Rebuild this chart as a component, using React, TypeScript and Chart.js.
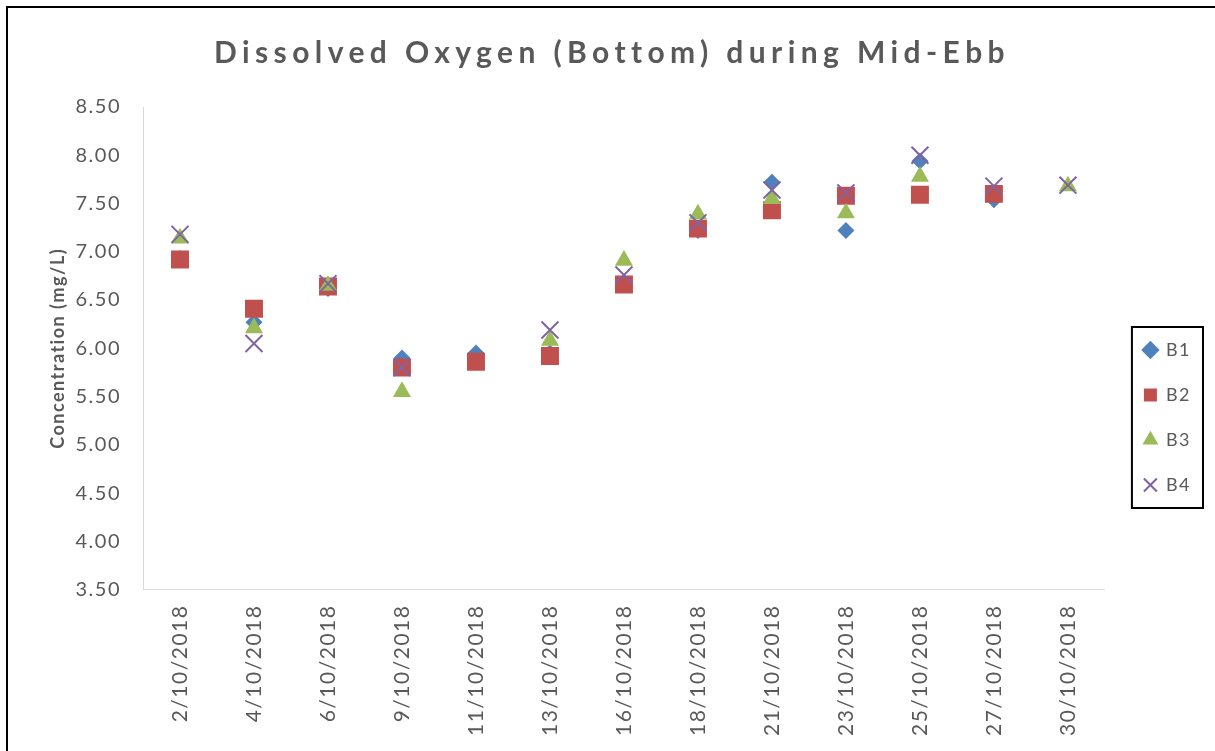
import React, { useEffect, useRef } from "react";
import { Chart, registerables } from "chart.js";

Chart.register(...registerables);

const TITLE = "Dissolved Oxygen (Bottom) during Mid-Ebb";
const Y_TITLE = "Concentration (mg/L)";

const dates = [
  "2/10/2018", "4/10/2018", "6/10/2018", "9/10/2018", "11/10/2018", "13/10/2018",
  "16/10/2018", "18/10/2018", "21/10/2018", "23/10/2018", "25/10/2018", "27/10/2018", "30/10/2018",
];

const b1 = [6.93, 6.27, 6.62, 5.90, 5.95, 5.95, 6.66, 7.22, 7.72, 7.22, 7.94, 7.54, null];
const b2 = [6.92, 6.41, 6.64, 5.80, 5.86, 5.92, 6.66, 7.24, 7.43, 7.58, 7.59, 7.60, null];
const b3 = [7.14, 6.21, 6.65, 5.55, null, 6.08, 6.91, 7.39, 7.55, 7.40, 7.78, null, 7.68];
const b4 = [7.18, 6.05, 6.67, 5.80, null, 6.19, 6.76, 7.30, 7.64, 7.61, 8.00, 7.68, 7.69];

const yMin = 3.5;
const yMax = 8.5;
const yStep = 0.5;

const seriesNames = ["B1", "B2", "B3", "B4"];
const seriesColors = ["#4f81bd", "#c0504d", "#9bbb59", "#8064a2"];

const TEXT = "#595959";
const FONT = "Lato";

const spacingPlugin = {
  id: "spacing",
  beforeUpdate(chart: any) {
    chart.ctx.letterSpacing = "1.5px";
  },
  beforeDraw(chart: any) {
    chart.ctx.letterSpacing = "1.5px";
  },
};

const legendPlacePlugin = {
  id: "legendPlace",
  afterLayout(chart: any) {
    const lg = chart.legend;
    if (!lg) return;
    const w = lg.width;
    const h = lg.height;
    lg.left = chart.chartArea.right + 12;
    lg.right = lg.left + w;
    lg.top = 314;
    lg.bottom = lg.top + h;
  },
};

const decorPlugin = {
  id: "decor",
  afterDraw(chart: any) {
    const ctx = chart.ctx;
    ctx.save();
    ctx.letterSpacing = "5.4px";
    ctx.font = `bold 30px ${FONT}`;
    ctx.fillStyle = TEXT;
    ctx.textAlign = "center";
    ctx.textBaseline = "middle";
    ctx.fillText(TITLE, 612, 53);
    ctx.restore();

    const boxes = chart.legend && chart.legend.legendHitBoxes;
    if (boxes && boxes.length) {
      let l = Infinity, t = Infinity, r = -Infinity, b = -Infinity;
      boxes.forEach((h: any) => {
        l = Math.min(l, h.left);
        t = Math.min(t, h.top);
        r = Math.max(r, h.left + h.width);
        b = Math.max(b, h.top + h.height);
      });
      ctx.save();
      ctx.strokeStyle = "#000";
      ctx.lineWidth = 2;
      ctx.strokeRect(l - 12, t - 14, r - l + 24, b - t + 28);
      ctx.restore();
    }
  },
};

export default function App() {
  const ref = useRef<HTMLCanvasElement | null>(null);

  useEffect(() => {
    document.body.style.margin = "0";
    document.body.style.overflow = "hidden";
    document.documentElement.style.overflow = "hidden";
    const canvas = ref.current;
    if (!canvas) return;
    const values = [b1, b2, b3, b4];
    const styles = ["rectRot", "rect", "triangle", "crossRot"];
    const radii = [8.5, 12.7, 10.4, 12];
    const chart = new Chart(canvas, {
      type: "line",
      data: {
        labels: dates,
        datasets: values.map((v, i) => ({
          label: seriesNames[i],
          data: v,
          order: values.length - 1 - i,
          showLine: false,
          pointStyle: styles[i] as any,
          pointRadius: radii[i],
          pointHoverRadius: radii[i],
          backgroundColor: seriesColors[i],
          borderColor: seriesColors[i],
          pointBackgroundColor: seriesColors[i],
          pointBorderColor: seriesColors[i],
          pointBorderWidth: i === 3 ? 2 : 0,
        })),
      },
      options: {
        responsive: false,
        animation: false,
        layout: { padding: { top: 107, left: 47, right: 26, bottom: 19 } },
        plugins: {
          title: { display: false },
          tooltip: { enabled: false },
          legend: {
            position: "right",
            align: "start",
            labels: {
              usePointStyle: true,
              boxWidth: 13,
              boxHeight: 13,
              padding: 27,
              color: TEXT,
              font: { family: FONT, size: 18 },
              sort: (a: any, b: any) => a.datasetIndex - b.datasetIndex,
            },
          },
        },
        scales: {
          x: {
            type: "category",
            offset: true,
            grid: { display: false, drawTicks: false },
            border: { display: true, color: "#d9d9d9", width: 1 },
            ticks: {
              autoSkip: false,
              minRotation: 90,
              maxRotation: 90,
              padding: 15,
              color: TEXT,
              font: { family: FONT, size: 21 },
            },
          },
          y: {
            min: yMin,
            max: yMax,
            grid: { display: false, drawTicks: false },
            border: { display: true, color: "#d9d9d9", width: 1 },
            afterFit: (s: any) => {
              s.width = 96;
            },
            ticks: {
              stepSize: yStep,
              padding: 22,
              color: TEXT,
              font: { family: FONT, size: 20 },
              callback: (v: any) => Number(v).toFixed(2),
            },
            title: {
              display: true,
              text: Y_TITLE,
              color: TEXT,
              font: { family: FONT, size: 18, weight: "bold" },
              padding: { top: 0, bottom: 10 },
            },
          },
        },
      },
      plugins: [spacingPlugin, legendPlacePlugin, decorPlugin],
    });
    return () => chart.destroy();
  }, []);

  return (
    <div style={{ position: "relative", width: 1215, height: 751, overflow: "hidden", background: "#fff" }}>
      <canvas
        ref={ref}
        width={1215}
        height={770}
        style={{ position: "absolute", left: 0, top: 0, width: 1215, height: 770, display: "block" }}
      />
      <div
        style={{
          position: "absolute",
          left: 6,
          top: 6,
          width: 1300,
          height: 900,
          border: "2px solid #000",
          boxSizing: "border-box",
          pointerEvents: "none",
        }}
      />
    </div>
  );
}
